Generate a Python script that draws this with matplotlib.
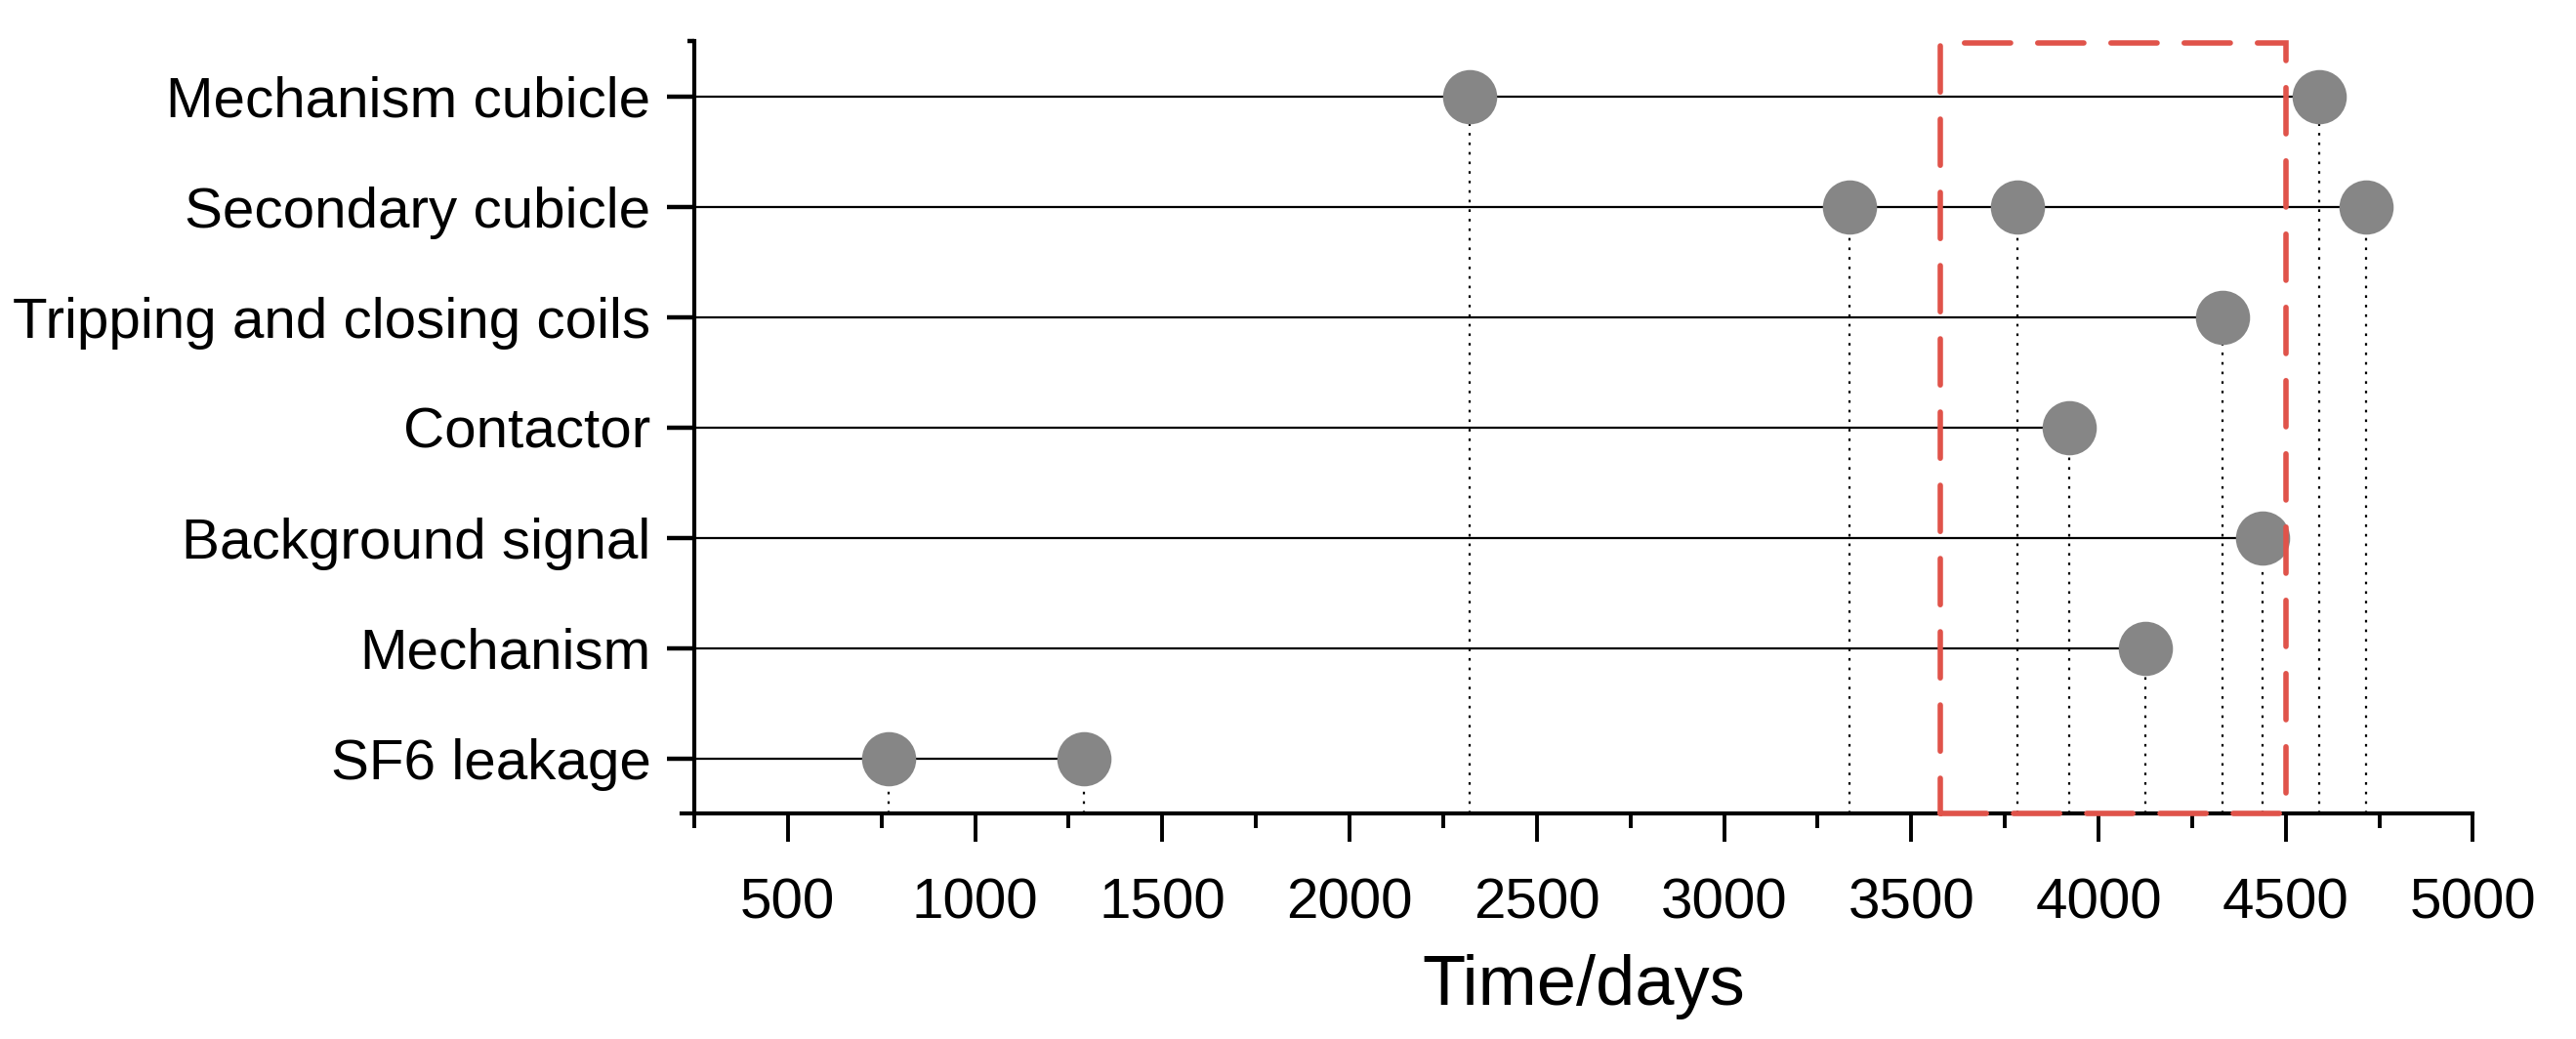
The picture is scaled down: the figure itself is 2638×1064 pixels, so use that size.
import matplotlib as mp
mp.use("Agg")
import matplotlib.pyplot as plt
from matplotlib.patches import Rectangle

mp.rcParams.update({
    "font.family": ["Liberation Sans", "DejaVu Sans"],
    "font.size": 21,
})

# categories from bottom to top
categories = ["SF6 leakage", "Mechanism", "Background signal", "Contactor",
              "Tripping and closing coils", "Secondary cubicle", "Mechanism cubicle"]
# failure times (days) for each category
times = [
    [769, 1291],
    [4124],
    [4437],
    [3923],
    [4332],
    [3335, 3784, 4714],
    [2320, 4590],
]
xticks = [500, 1000, 1500, 2000, 2500, 3000, 3500, 4000, 4500, 5000]
xminor = [250, 750, 1250, 1750, 2250, 2750, 3250, 3750, 4250, 4750]
box_x = [3578, 4500]   # highlighted window

x0 = 250
y_bot = -0.5

fig = plt.figure(figsize=(13.19, 5.32), dpi=200)
ax = fig.add_axes([0.2695, 0.217, 0.6905, 0.7435])

for i, ts in enumerate(times):
    ax.plot([x0, max(ts)], [i, i], color="black", lw=0.8, zorder=2, solid_capstyle="butt")
    for t in ts:
        ax.plot([t, t], [y_bot, i], color="black", lw=0.8, dashes=(1.2, 3.2), zorder=1)
    ax.plot(ts, [i] * len(ts), "o", color="#868686", ms=20, mec="none", zorder=3)

rect = Rectangle((box_x[0], y_bot), box_x[1] - box_x[0], 6.98, fill=False,
                 ec="#E0534A", lw=2, ls=(0, (8.5, 5)), capstyle="round",
                 clip_on=False, zorder=5)
ax.add_patch(rect)

ax.set_xlim(x0, 5000)
ax.set_ylim(y_bot, 6.5)
ax.set_xticks(xticks)
ax.set_xticks(xminor, minor=True)
ax.set_yticks(range(len(categories)))
ax.set_yticklabels(categories)
ax.set_yticks([6.5], minor=True)

for s in ["top", "right"]:
    ax.spines[s].set_visible(False)
for s in ["left", "bottom"]:
    ax.spines[s].set_linewidth(1.5)
ax.spines["bottom"].set_bounds(215, 5000)

ax.tick_params(axis="x", which="major", length=10.5, width=1.4, pad=13, labelsize=21)
ax.tick_params(axis="x", which="minor", length=5.4, width=1.4)
ax.tick_params(axis="y", which="major", length=10, width=1.6, pad=6, labelsize=21)
ax.tick_params(axis="y", which="minor", length=2.5, width=1.6)

ax.set_xlabel("Time/days", fontsize=26, labelpad=9)

fig.savefig("out.png", dpi=200)
